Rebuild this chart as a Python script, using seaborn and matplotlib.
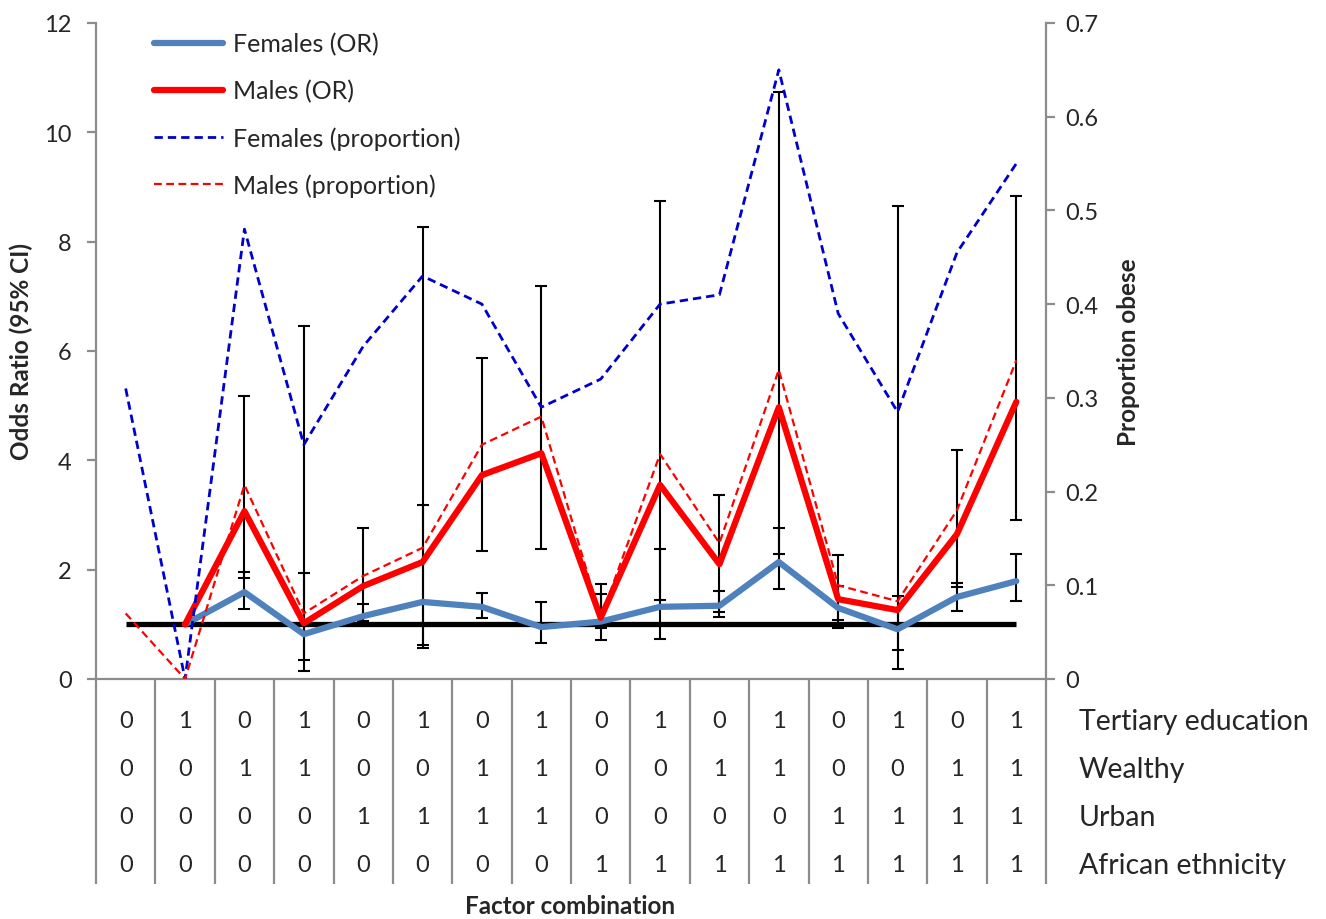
import numpy as np
import pandas as pd
import matplotlib
matplotlib.use("Agg")
import matplotlib.pyplot as plt
import seaborn as sns

# ---------------- data ----------------
tertiary = [0, 1, 0, 1, 0, 1, 0, 1, 0, 1, 0, 1, 0, 1, 0, 1]
wealthy = [0, 0, 1, 1, 0, 0, 1, 1, 0, 0, 1, 1, 0, 0, 1, 1]
urban = [0, 0, 0, 0, 1, 1, 1, 1, 0, 0, 0, 0, 1, 1, 1, 1]
african = [0, 0, 0, 0, 0, 0, 0, 0, 1, 1, 1, 1, 1, 1, 1, 1]
factor_names = ["Tertiary education", "Wealthy", "Urban", "African ethnicity"]

nan = np.nan
female_or = [nan, 1.0, 1.59, 0.82, 1.15, 1.41, 1.32, 0.95, 1.05, 1.32, 1.34, 2.14, 1.30, 0.91, 1.50, 1.79]
female_lo = [nan, nan, 1.28, 0.35, 1.05, 0.62, 1.12, 0.66, 0.71, 0.73, 1.13, 1.65, 1.08, 0.53, 1.24, 1.43]
female_hi = [nan, nan, 1.96, 1.94, 1.37, 3.18, 1.57, 1.41, 1.55, 2.38, 1.61, 2.76, 1.70, 1.52, 1.76, 2.28]

male_or = [nan, 1.0, 3.07, 1.02, 1.70, 2.14, 3.73, 4.13, 1.12, 3.55, 2.10, 4.97, 1.46, 1.26, 2.65, 5.07]
male_lo = [nan, nan, 1.84, 0.15, 1.07, 0.56, 2.34, 2.37, 0.93, 1.44, 1.22, 2.29, 0.93, 0.18, 1.68, 2.91]
male_hi = [nan, nan, 5.18, 6.45, 2.76, 8.27, 5.87, 7.19, 1.74, 8.75, 3.36, 10.73, 2.27, 8.65, 4.19, 8.84]

female_prop = [0.31, 0.0, 0.48, 0.25, 0.355, 0.43, 0.40, 0.29, 0.32, 0.40, 0.41, 0.65, 0.39, 0.285, 0.455, 0.55]
male_prop = [0.07, 0.0, 0.207, 0.07, 0.11, 0.14, 0.25, 0.28, 0.065, 0.24, 0.145, 0.33, 0.10, 0.083, 0.18, 0.34]

reference_or = 1.0
left_ticks = [0, 2, 4, 6, 8, 10, 12]
right_ticks = [0, 0.1, 0.2, 0.3, 0.4, 0.5, 0.6, 0.7]
right_ticklabels = ["0", "0.1", "0.2", "0.3", "0.4", "0.5", "0.6", "0.7"]

# ---------------- style ----------------
sns.set_style("white")
plt.rcParams["font.family"] = ["Lato", "DejaVu Sans"]

pos = np.arange(len(tertiary))
df = pd.DataFrame({
    "pos": pos,
    "female_or": female_or, "female_lo": female_lo, "female_hi": female_hi,
    "male_or": male_or, "male_lo": male_lo, "male_hi": male_hi,
    "female_prop": female_prop, "male_prop": male_prop,
})

fig = plt.figure(figsize=(13.26, 9.2), dpi=100)
ax = fig.add_axes([96 / 1326, 1 - 680 / 920, 950 / 1326, 656 / 920])
ax2 = ax.twinx()

gray = "#8c8c8c"
c_blue = "#4F81BD"
c_red = "#FF0000"
c_dblue = "#0000CC"

# error bars
ci_f = df.dropna(subset=["female_lo"])
ci_m = df.dropna(subset=["male_lo"])
ax.errorbar(ci_f["pos"], ci_f["female_or"],
            yerr=[ci_f["female_or"] - ci_f["female_lo"], ci_f["female_hi"] - ci_f["female_or"]],
            fmt="none", ecolor="black", elinewidth=1.5, capsize=4.5, capthick=1.5, zorder=2)
ax.errorbar(ci_m["pos"], ci_m["male_or"],
            yerr=[ci_m["male_or"] - ci_m["male_lo"], ci_m["male_hi"] - ci_m["male_or"]],
            fmt="none", ecolor="black", elinewidth=1.5, capsize=4.5, capthick=1.5, zorder=2)

# reference line
ax.hlines(reference_or, pos[0], pos[-1], color="black", linewidth=3.8, zorder=3)

d_or = df.dropna(subset=["female_or"])
sns.lineplot(data=d_or, x="pos", y="female_or", ax=ax, color=c_blue, linewidth=4.5,
             errorbar=None, label="Females (OR)", legend=False, zorder=4)
h_f_or = ax.lines[-1]
sns.lineplot(data=d_or, x="pos", y="male_or", ax=ax, color=c_red, linewidth=4.5,
             errorbar=None, label="Males (OR)", legend=False, zorder=4)
h_m_or = ax.lines[-1]

sns.lineplot(data=df, x="pos", y="female_prop", ax=ax2, color=c_dblue, linewidth=2.0,
             errorbar=None, label="Females (proportion)", legend=False)
h_f_p = ax2.lines[-1]
h_f_p.set_linestyle((0, (3, 1.8)))
sns.lineplot(data=df, x="pos", y="male_prop", ax=ax2, color=c_red, linewidth=1.6,
             errorbar=None, label="Males (proportion)", legend=False)
h_m_p = ax2.lines[-1]
h_m_p.set_linestyle((0, (3.5, 2)))

# axes
ax.set_xlim(-0.5, len(pos) - 0.5)
ax.set_ylim(0, 12)
ax2.set_ylim(0, 0.7)
ax.set_yticks(left_ticks)
ax.set_yticklabels([str(t) for t in left_ticks])
ax2.set_yticks(right_ticks)
ax2.set_yticklabels(right_ticklabels)
ax.set_xticks([])
ax.set_xlabel("")
ax2.set_xlabel("")
ax.set_ylabel("Odds Ratio (95% CI)", fontsize=17.5, fontweight="bold", labelpad=8)
ax2.set_ylabel("Proportion obese", fontsize=17.5, fontweight="bold", labelpad=14)

for a in (ax, ax2):
    for s in a.spines.values():
        s.set_color(gray)
        s.set_linewidth(1.6)
    a.spines["top"].set_visible(False)
ax.spines["right"].set_visible(False)
ax2.spines["left"].set_visible(False)
ax2.spines["bottom"].set_visible(False)
ax.tick_params(axis="y", direction="out", length=6.5, width=1.6, color=gray, labelsize=17, pad=11)
ax2.tick_params(axis="y", direction="out", length=6.5, width=1.6, color=gray, labelsize=17, pad=7)

# factor table below the axis
tr = ax.get_xaxis_transform()
ax.vlines(np.arange(len(pos) + 1) - 0.5, -0.3125, 0, transform=tr, color=gray,
          linewidth=1.6, clip_on=False)
rows = [tertiary, wealthy, urban, african]
row_y = [-0.064, -0.137, -0.21, -0.2835]
for vals, yy, name in zip(rows, row_y, factor_names):
    for p, v in zip(pos, vals):
        ax.text(p, yy, str(v), transform=tr, ha="center", va="center", fontsize=17)
    fig.text(1079 / 1326, 1 - (680 - yy * 656) / 920, name, ha="left", va="center", fontsize=20.5)

fig.text(570 / 1326, 1 - 907 / 920, "Factor combination", ha="center", va="center",
         fontsize=17.5, fontweight="bold")

# legend
fig.legend([h_f_or, h_m_or, h_f_p, h_m_p],
           ["Females (OR)", "Males (OR)", "Females (proportion)", "Males (proportion)"],
           loc="upper left", bbox_to_anchor=(154 / 1326, 1 - 33 / 920), frameon=False,
           fontsize=18, handlelength=2.75, handletextpad=0.4, labelspacing=0.95,
           borderpad=0, borderaxespad=0)

fig.savefig("out.png", dpi=100)
